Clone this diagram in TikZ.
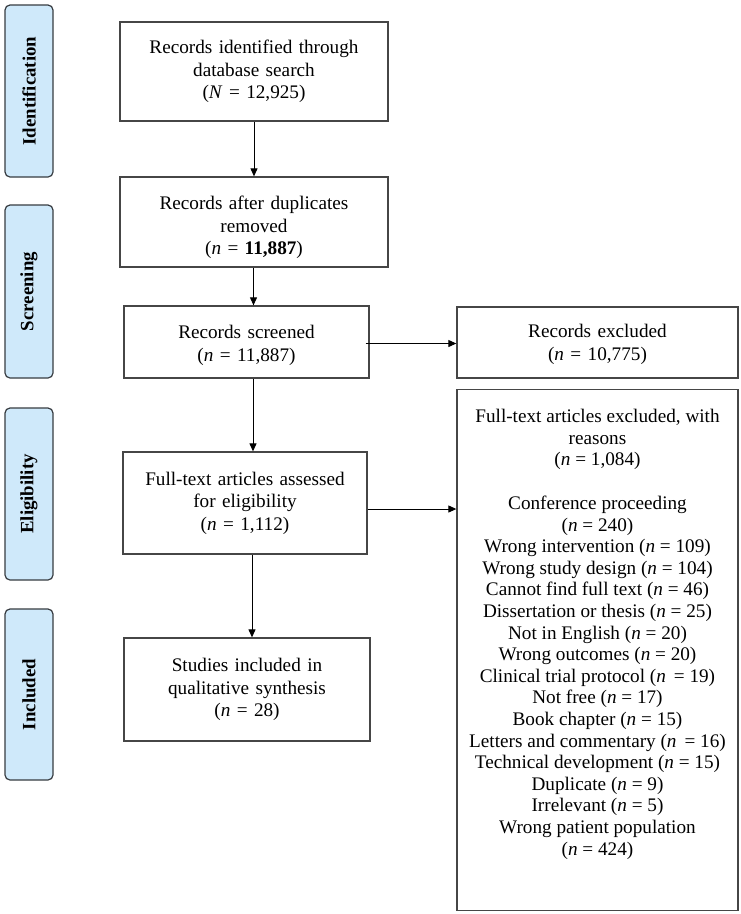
\documentclass[tikz,border=0pt]{standalone}
\usepackage{fontspec}
\setmainfont{Liberation Serif}
\usetikzlibrary{arrows.meta,calc}
\definecolor{sidefill}{RGB}{207,233,250}
\definecolor{sideline}{RGB}{55,60,65}
\definecolor{boxline}{RGB}{70,70,70}
\tikzset{
  mainbox/.style={draw=boxline, line width=1.3pt, fill=white, align=center, inner sep=0pt,
    font=\fontsize{19.2}{22.5}\selectfont},
  sidebox/.style={draw=sideline, line width=1.2pt, fill=sidefill, rounded corners=5pt,
    minimum width=48pt, inner sep=0pt},
  sidetext/.style={rotate=90, font=\fontsize{18.8}{22}\selectfont\bfseries},
  arr/.style={draw=black, line width=1pt, -{Triangle[length=8pt,width=7pt]}}
}
\begin{document}
\begin{tikzpicture}[x=1pt,y=-1pt]
\useasboundingbox[fill=white] (0,0) rectangle (740,914);
% side labels
\node[sidebox, minimum height=172pt] (sid) at (29,91) {};
\node[sidetext] (sidt) at (sid.center) {Identification};
\node[sidebox, minimum height=173pt] (scr) at (29,291.5) {};
\node[sidetext] (scrt) at (scr.center) {Screening};
\node[sidebox, minimum height=172pt] (eli) at (29,494) {};
\node[sidetext] (elit) at (eli.center) {Eligibility};
\node[sidebox, minimum height=171pt] (inc) at (29,694.5) {};
\node[sidetext] (inct) at (inc.center) {Included};
% main boxes
\node[mainbox, minimum width=268pt, minimum height=99pt, text width=260pt] (b1) at (254,71.5)
  {Records identified through\\database search\\(\textit{N} = 12,925)};
\node[mainbox, minimum width=268pt, minimum height=90pt, text width=260pt] (b2) at (254,222)
  {\rule{0pt}{24.5pt}Records after duplicates\\removed\\(\textit{n} = \textbf{11,887})};
\node[mainbox, minimum width=245pt, minimum height=72pt, text width=237pt] (b3) at (246.5,342)
  {\rule{0pt}{20pt}Records screened\\(\textit{n} = 11,887)};
\node[mainbox, minimum width=244pt, minimum height=102pt, text width=236pt] (b4) at (245,503)
  {Full-text articles assessed\\for eligibility\\(\textit{n} = 1,112)};
\node[mainbox, minimum width=246pt, minimum height=103pt, text width=238pt] (b5) at (247,689.5)
  {Studies included in\\qualitative synthesis\\(\textit{n} = 28)};
\node[mainbox, minimum width=281pt, minimum height=71pt, text width=273pt] (e1) at (597.5,342.5)
  {\rule{0pt}{17pt}Records excluded\\(\textit{n} = 10,775)};
\node[mainbox, anchor=north] (e2) at (597.5,389)
  {\begin{minipage}[c][521pt][t]{281pt}\centering
   \vspace*{20pt}%
   {\fontsize{19.2}{21.5}\selectfont Full-text articles excluded, with\\reasons\\(\textit{n} = 1,084)\par}
   \vspace{22pt}%
   {\fontsize{19.2}{21.6}\selectfont
   Conference proceeding\\(\textit{n} = 240)\\
   Wrong intervention (\textit{n} = 109)\\
   Wrong study design (\textit{n} = 104)\\
   Cannot find full text (\textit{n} = 46)\\
   Dissertation or thesis (\textit{n} = 25)\\
   Not in English (\textit{n} = 20)\\
   Wrong outcomes (\textit{n} = 20)\\
   Clinical trial protocol (\textit{n} \,= 19)\\
   Not free (\textit{n} = 17)\\
   Book chapter (\textit{n} = 15)\\
   Letters and commentary (\textit{n} \,= 16)\\
   Technical development (\textit{n} = 15)\\
   Duplicate (\textit{n} = 9)\\
   Irrelevant (\textit{n} = 5)\\
   Wrong patient population\\(\textit{n} = 424)\par}
   \end{minipage}};
% connectors
\draw[arr] (b1.south) -- (b2.north);
\draw[arr] ([xshift=-0.5pt]b2.south) -- ([xshift=-0.5pt]b2.south |- b3.north);
\draw[arr] ([xshift=6.5pt]b3.south) -- ([xshift=6.5pt]b3.south |- b4.north);
\draw[arr] ([xshift=7pt]b4.south) -- ([xshift=7pt]b4.south |- b5.north);
\draw[arr] ([xshift=-4pt,yshift=-1.5pt]b3.east) -- ([yshift=-1.5pt]b3.east -| e1.west);
\draw[arr] ([yshift=-6pt]b4.east) -- ([yshift=-6pt]b4.east -| e2.west);
\end{tikzpicture}
\end{document}
